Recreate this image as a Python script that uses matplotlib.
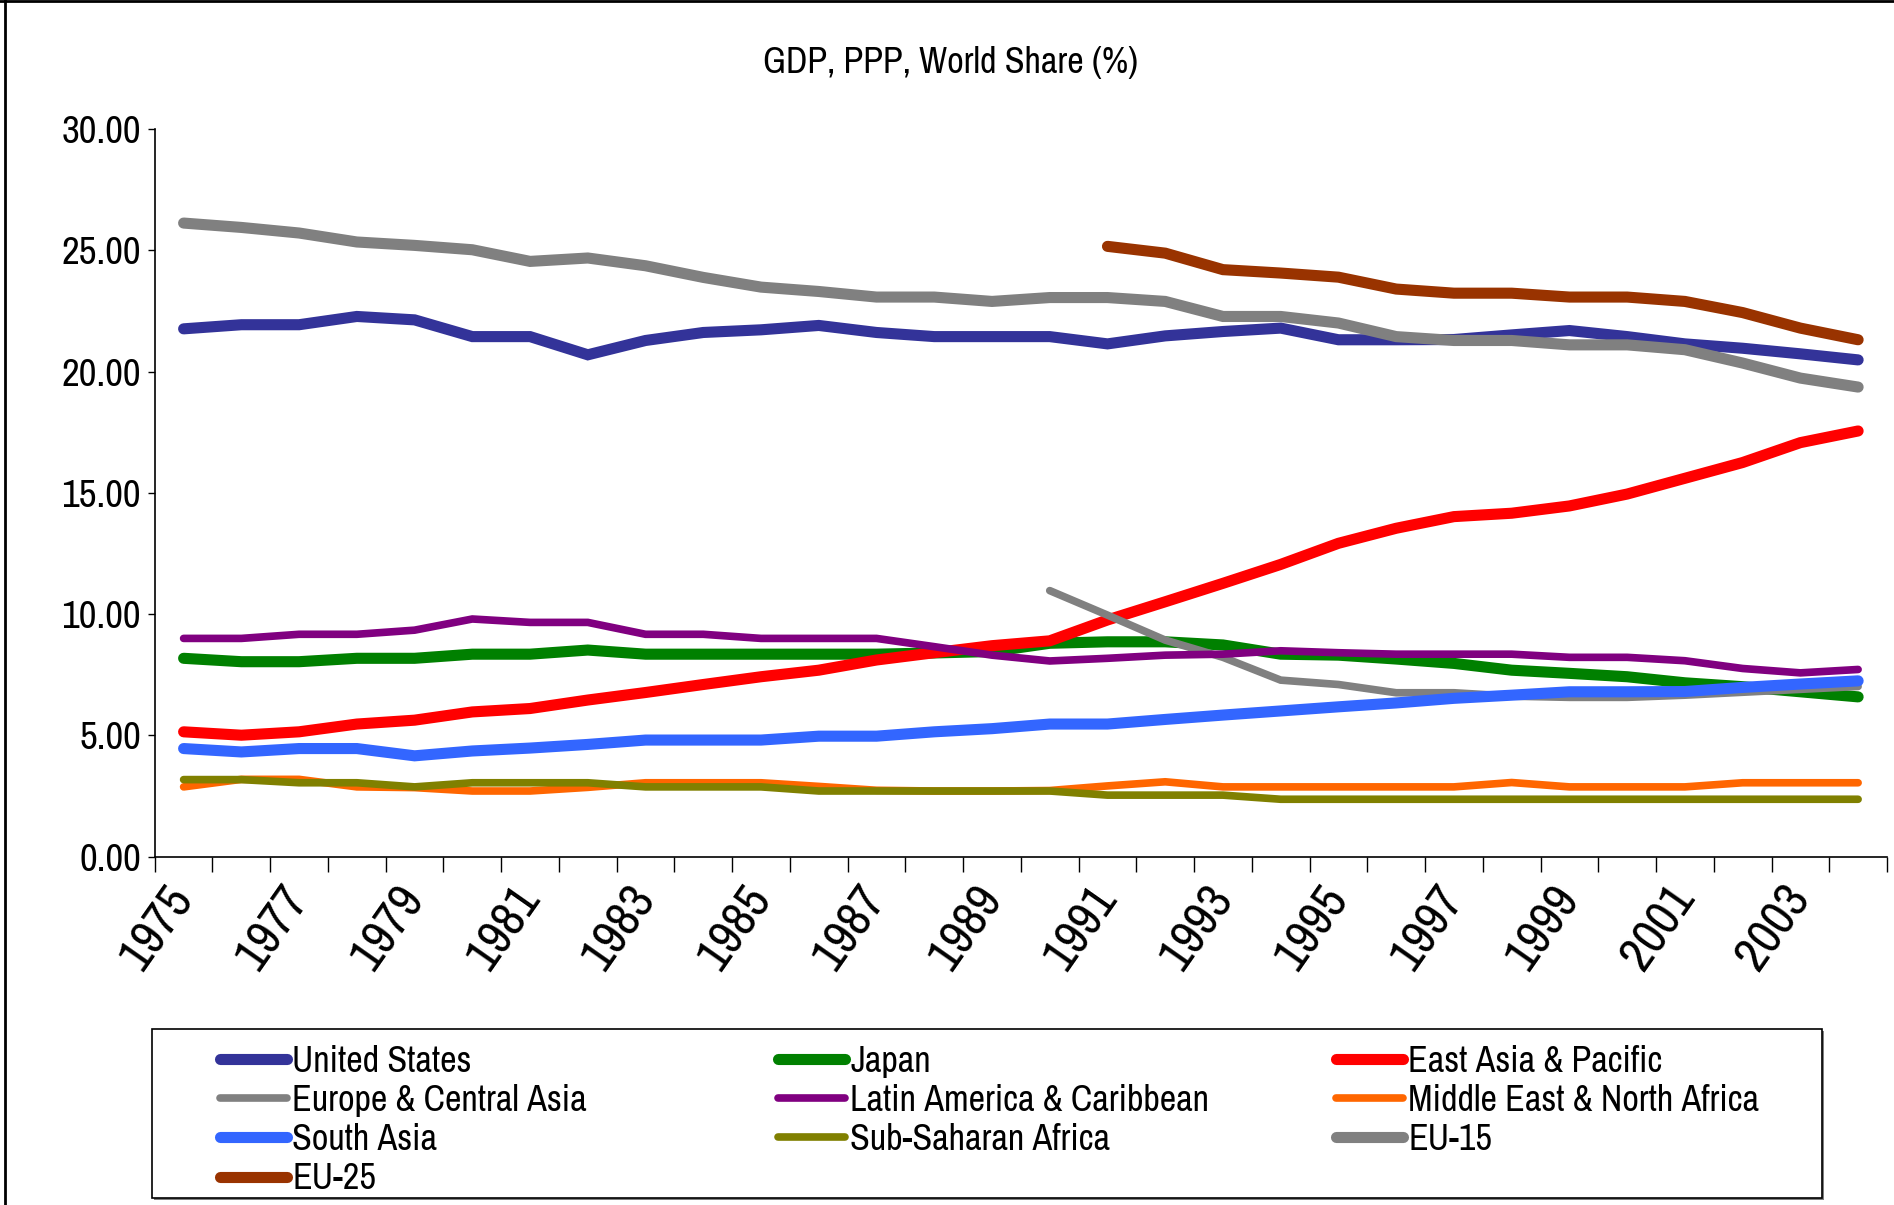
import numpy as np
import matplotlib
matplotlib.use("Agg")
import matplotlib.pyplot as plt
from matplotlib.lines import Line2D
from matplotlib.patches import Rectangle

plt.rcParams['font.family'] = ['Archivo Narrow', 'Roboto Condensed', 'DejaVu Sans']

years = list(range(1975, 2005))

us = [21.76, 21.93, 21.93, 22.27, 22.13, 21.44, 21.44, 20.69, 21.28, 21.61, 21.72, 21.90, 21.61, 21.44, 21.44,
      21.44, 21.14, 21.47, 21.65, 21.79, 21.31, 21.31, 21.32, 21.51, 21.69, 21.44, 21.14, 20.96, 20.73, 20.48]
japan = [8.18, 8.04, 8.04, 8.18, 8.18, 8.35, 8.35, 8.52, 8.35, 8.35, 8.35, 8.35, 8.35, 8.40, 8.46,
         8.80, 8.86, 8.86, 8.73, 8.35, 8.31, 8.15, 7.97, 7.69, 7.56, 7.42, 7.17, 7.01, 6.80, 6.59]
east_asia = [5.15, 5.01, 5.15, 5.47, 5.63, 5.97, 6.11, 6.46, 6.77, 7.10, 7.42, 7.69, 8.11, 8.41, 8.70,
             8.90, 9.76, 10.51, 11.27, 12.05, 12.92, 13.54, 14.02, 14.16, 14.46, 14.95, 15.60, 16.25, 17.07, 17.55]
europe_ca = [None] * 15 + [10.97, 9.96, 8.93, 8.22, 7.28, 7.10, 6.76, 6.76, 6.62, 6.57, 6.57, 6.66, 6.78, 6.90, 7.02]
latam = [9.00, 9.00, 9.17, 9.17, 9.34, 9.80, 9.66, 9.66, 9.17, 9.17, 9.00, 9.00, 9.00, 8.66, 8.31,
         8.07, 8.18, 8.31, 8.35, 8.49, 8.41, 8.35, 8.35, 8.35, 8.22, 8.22, 8.08, 7.76, 7.58, 7.72]
mideast = [2.88, 3.19, 3.19, 2.88, 2.85, 2.71, 2.71, 2.86, 3.05, 3.05, 3.05, 2.90, 2.74, 2.71, 2.71,
           2.73, 2.92, 3.09, 2.88, 2.88, 2.88, 2.88, 2.88, 3.06, 2.88, 2.88, 2.88, 3.05, 3.05, 3.05]
south_asia = [4.46, 4.32, 4.46, 4.46, 4.16, 4.36, 4.48, 4.63, 4.81, 4.81, 4.81, 4.97, 4.97, 5.15, 5.28,
              5.47, 5.47, 5.66, 5.84, 6.01, 6.18, 6.34, 6.53, 6.66, 6.80, 6.80, 6.81, 6.98, 7.12, 7.25]
ssa = [3.18, 3.18, 3.05, 3.05, 2.88, 3.05, 3.05, 3.05, 2.88, 2.88, 2.88, 2.71, 2.71, 2.71, 2.71,
       2.71, 2.54, 2.54, 2.54, 2.37, 2.37, 2.37, 2.37, 2.37, 2.37, 2.37, 2.37, 2.37, 2.37, 2.37]
eu15 = [26.12, 25.94, 25.71, 25.34, 25.20, 25.02, 24.54, 24.68, 24.36, 23.88, 23.48, 23.30, 23.07, 23.07, 22.89,
        23.05, 23.05, 22.89, 22.27, 22.27, 22.00, 21.44, 21.28, 21.28, 21.10, 21.10, 20.90, 20.35, 19.73, 19.36]
eu25 = [None] * 16 + [25.16, 24.88, 24.20, 24.06, 23.89, 23.40, 23.23, 23.23, 23.07, 23.07, 22.89, 22.43, 21.79, 21.31]

names = ['United States', 'Japan', 'East Asia & Pacific', 'Europe & Central Asia', 'Latin America & Caribbean',
         'Middle East & North Africa', 'South Asia', 'Sub-Saharan Africa', 'EU-15', 'EU-25']
series = [us, japan, east_asia, europe_ca, latam, mideast, south_asia, ssa, eu15, eu25]
colors = ['#333399', '#008000', '#FF0000', '#808080', '#800080', '#FF6600', '#3366FF', '#808000', '#808080', '#993300']
widths = [8, 8, 8, 5.5, 5.5, 5.5, 8, 5.5, 8, 8]

fig = plt.figure(figsize=(18.94, 12.05), dpi=100)
ax = fig.add_axes([0.0817, 0.289, 0.9146, 0.604])

x = np.arange(len(years))
lines = []
for vals, c, w, n in zip(series, colors, widths, names):
    ln, = ax.plot(x, np.array(vals, dtype=float), color=c, lw=w, label=n,
                  solid_capstyle='round', solid_joinstyle='miter')
    lines.append(ln)

ax.set_xlim(-0.5, len(years) - 0.5)
ax.set_ylim(0, 30)
ax.spines['top'].set_visible(False)
ax.spines['right'].set_visible(False)
ax.spines['left'].set_linewidth(1.2)
ax.spines['bottom'].set_linewidth(1.2)

ax.set_yticks(np.arange(0, 31, 5))
ax.set_yticklabels(['%.2f' % v for v in np.arange(0, 31, 5)], fontsize=28)
ax.tick_params(axis='y', direction='out', length=5, width=1, pad=5)

ax.set_xticks(np.arange(-0.5, len(years), 1))
ax.set_xticklabels([])
ax.tick_params(axis='x', which='major', direction='out', length=11, width=1)
ax.set_xticks(x[::2], minor=True)
ax.set_xticklabels([str(y) for y in years[::2]], minor=True, fontsize=36,
                   rotation=55, ha='right', va='center', rotation_mode='anchor')
ax.tick_params(axis='x', which='minor', length=0, pad=24)

fig.text(0.502, 0.948, 'GDP, PPP, World Share (%)', ha='center', va='center', fontsize=26)

# legend box drawn by hand, three column legends inside
fig.add_artist(Rectangle((0.0815, 0.0045), 0.8817, 0.1398, transform=fig.transFigure,
                         facecolor='#808080', edgecolor='none', zorder=1))
fig.add_artist(Rectangle((0.0801, 0.0062), 0.8817, 0.1398, transform=fig.transFigure,
                         facecolor='white', edgecolor='black', lw=1.2, zorder=2))
order = [[0, 3, 6, 9], [1, 4, 7], [2, 5, 8]]
col_x = [0.1162, 0.4108, 0.7054]
for cols, cx in zip(order, col_x):
    leg = fig.legend([lines[i] for i in cols], [names[i] for i in cols], loc='upper left',
                     bbox_to_anchor=(cx, 0.133), frameon=False, fontsize=26, handlelength=1.85,
                     handletextpad=0.15, labelspacing=0.17, borderpad=0, borderaxespad=0)
    leg.set_zorder(3)

# outer border of the chart area (left and top visible)
fig.add_artist(Line2D([0.0028, 0.0028], [0, 1], transform=fig.transFigure, color='black', lw=2))
fig.add_artist(Line2D([0, 1], [0.999, 0.999], transform=fig.transFigure, color='black', lw=2))

fig.savefig('out.png', dpi=100)
